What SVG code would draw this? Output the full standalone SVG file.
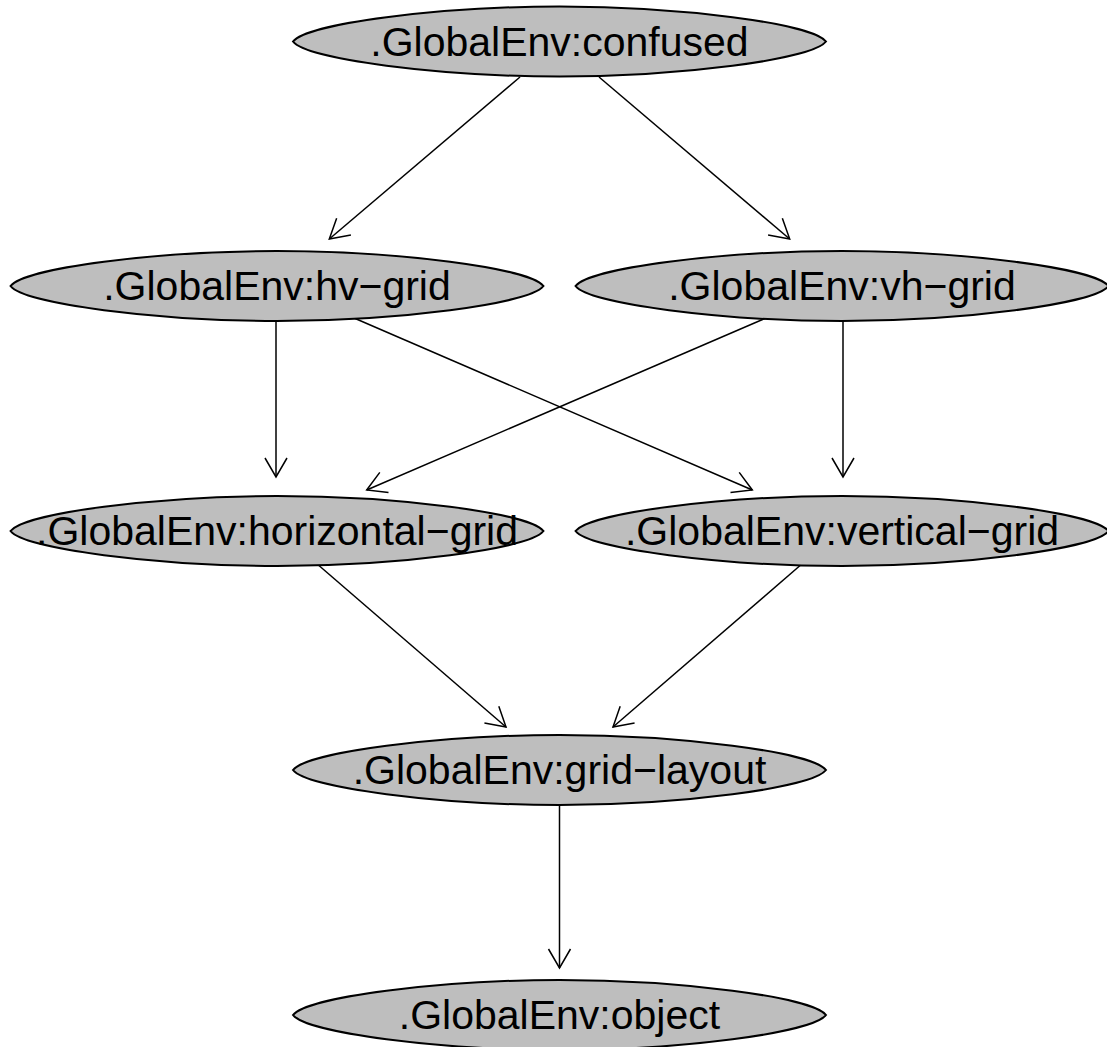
<svg xmlns="http://www.w3.org/2000/svg" xmlns:xlink="http://www.w3.org/1999/xlink" width="1107" height="1047" viewBox="0 0 1107 1047">
<style>
.shape{fill:#bebebe;stroke:#000;stroke-width:2}
.lbl{font-family:"Liberation Sans",Arial,sans-serif;font-size:41px;fill:#000;text-anchor:middle}
.edge{fill:none;stroke:#000;stroke-width:1.5;marker-end:url(#arr)}
</style>
<defs>
<path id="nshape" d="M -266.5,0 C -252.5,-18 -120,-35 0,-35 C 120,-35 252.5,-18 266.5,0 C 252.5,18 120,35 0,35 C -120,35 -252.5,18 -266.5,0 Z"/>
<marker id="arr" markerUnits="userSpaceOnUse" markerWidth="30" markerHeight="30" viewBox="-25 -15 30 30" refX="0" refY="0" orient="auto" overflow="visible">
<path d="M-19,-11 L0,0 L-19,11" fill="none" stroke="#000" stroke-width="1.5"/>
</marker>
</defs>
<rect width="1107" height="1047" fill="#fff"/>
<g id="edges">
<path class="edge" d="M520,77 L329.3,239"/>
<path class="edge" d="M599,77 L789.7,239"/>
<path class="edge" d="M276,320 L276,477"/>
<path class="edge" d="M354,318 L752.3,490"/>
<path class="edge" d="M766,318 L366.7,490"/>
<path class="edge" d="M843,320 L843,477"/>
<path class="edge" d="M316,563 L506,727"/>
<path class="edge" d="M803,563 L613,727"/>
<path class="edge" d="M559.5,805 L559.5,968"/>
</g>
<g id="n-confused"><use href="#nshape" class="shape" transform="translate(559.5,41.5)"/><text class="lbl" x="559.5" y="55.5">.GlobalEnv:confused</text></g>
<g id="n-hv-grid"><use href="#nshape" class="shape" transform="translate(277,286)"/><text class="lbl" x="277" y="300">.GlobalEnv:hv&#8722;grid</text></g>
<g id="n-vh-grid"><use href="#nshape" class="shape" transform="translate(842,286)"/><text class="lbl" x="842" y="300">.GlobalEnv:vh&#8722;grid</text></g>
<g id="n-horizontal-grid"><use href="#nshape" class="shape" transform="translate(277,531)"/><text class="lbl" x="277" y="545">.GlobalEnv:horizontal&#8722;grid</text></g>
<g id="n-vertical-grid"><use href="#nshape" class="shape" transform="translate(842,531)"/><text class="lbl" x="842" y="545">.GlobalEnv:vertical&#8722;grid</text></g>
<g id="n-grid-layout"><use href="#nshape" class="shape" transform="translate(559.5,770)"/><text class="lbl" x="559.5" y="784">.GlobalEnv:grid&#8722;layout</text></g>
<g id="n-object"><use href="#nshape" class="shape" transform="translate(559.5,1015)"/><text class="lbl" x="559.5" y="1029">.GlobalEnv:object</text></g>
</svg>
